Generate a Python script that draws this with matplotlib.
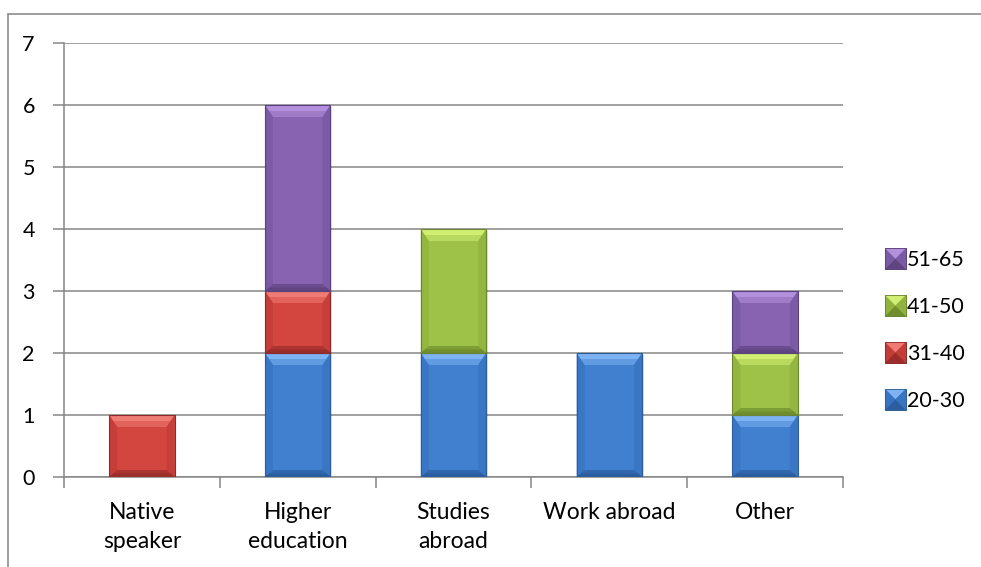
import matplotlib
matplotlib.use("Agg")
import matplotlib.pyplot as plt
from matplotlib.patches import Polygon, Rectangle
from matplotlib.legend_handler import HandlerBase

plt.rcParams['font.family'] = ['Lato', 'DejaVu Sans']

categories = ["Native\nspeaker", "Higher\neducation", "Studies\nabroad", "Work abroad", "Other"]
age_groups = ["20-30", "31-40", "41-50", "51-65"]
counts_20_30 = [0, 2, 2, 2, 1]
counts_31_40 = [1, 1, 0, 0, 0]
counts_41_50 = [0, 0, 2, 0, 1]
counts_51_65 = [0, 3, 0, 0, 1]
series = [counts_20_30, counts_31_40, counts_41_50, counts_51_65]
y_ticks = [0, 1, 2, 3, 4, 5, 6, 7]

# face, light top bevel, side bevel, dark bottom bevel, outline
palettes = [
    ("#4080CF", "#7DB3F2", "#3874C2", "#2B5E9F", "#2E5C98"),
    ("#D2463F", "#EE7C74", "#C23D38", "#9B2D2A", "#8E2B28"),
    ("#9EC247", "#D0EE72", "#90B33E", "#708E2E", "#6B862E"),
    ("#8763B1", "#B390DC", "#7A5AA4", "#5F4581", "#5A4280"),
]

W, H, DPI = 981, 567, 100
fig = plt.figure(figsize=(W / DPI, H / DPI), dpi=DPI)
ax_l, ax_r, ax_top_px, ax_bot_px = 64, 843, 43, 477
ax = fig.add_axes([ax_l / W, 1 - ax_bot_px / H, (ax_r - ax_l) / W, (ax_bot_px - ax_top_px) / H])

# outer chart border
fig.patches.append(Rectangle((8 / W, -0.01), 1.0, 1 - 14 / H + 0.01, transform=fig.transFigure,
                             fill=False, edgecolor="#8C8C8C", linewidth=1.2))

ax.set_xlim(-0.5, len(categories) - 0.5)
ax.set_ylim(0, 7)

px_per_x = (ax_r - ax_l) / len(categories)
px_per_y = (ax_bot_px - ax_top_px) / 7.0
bx = 8 / px_per_x
by_top = 12 / px_per_y
by_bot = 7 / px_per_y
bar_w = 0.42

def bevel_box(x0, x1, y0, y1, pal):
    face, light, side, dark, edge = pal
    arts = []
    # soft drop shadow
    arts.append(Rectangle((x0 + 1.5 / px_per_x, y0 - 2 / px_per_y), x1 - x0, y1 - y0,
                          facecolor="#000000", alpha=0.12, edgecolor="none", zorder=2))
    arts.append(Rectangle((x0, y0), x1 - x0, y1 - y0, facecolor=face, edgecolor="none", zorder=3))
    # top bevel: two bands for a soft highlight
    arts.append(Polygon([(x0, y1), (x1, y1), (x1 - bx, y1 - by_top), (x0 + bx, y1 - by_top)],
                        closed=True, facecolor=light, edgecolor="none", alpha=0.55, zorder=4))
    arts.append(Polygon([(x0, y1), (x1, y1), (x1 - bx * 0.5, y1 - by_top * 0.5),
                         (x0 + bx * 0.5, y1 - by_top * 0.5)],
                        closed=True, facecolor=light, edgecolor="none", zorder=4))
    arts.append(Polygon([(x0, y0), (x0, y1), (x0 + bx, y1 - by_top), (x0 + bx, y0 + by_bot)],
                        closed=True, facecolor=side, edgecolor="none", alpha=0.8, zorder=4))
    arts.append(Polygon([(x1, y0), (x1, y1), (x1 - bx, y1 - by_top), (x1 - bx, y0 + by_bot)],
                        closed=True, facecolor=side, edgecolor="none", alpha=0.8, zorder=4))
    arts.append(Polygon([(x0, y0), (x1, y0), (x1 - bx, y0 + by_bot), (x0 + bx, y0 + by_bot)],
                        closed=True, facecolor=dark, edgecolor="none", alpha=0.7, zorder=4))
    arts.append(Polygon([(x0, y0), (x1, y0), (x1 - bx * 0.5, y0 + by_bot * 0.5),
                         (x0 + bx * 0.5, y0 + by_bot * 0.5)],
                        closed=True, facecolor=dark, edgecolor="none", zorder=4))
    arts.append(Rectangle((x0, y0), x1 - x0, y1 - y0, fill=False, edgecolor=edge,
                          linewidth=0.8, zorder=5))
    return arts

x_pos = list(range(len(categories)))
bottoms = [0] * len(categories)
for vals, pal, name in zip(series, palettes, age_groups):
    bars = ax.bar(x_pos, vals, bar_w, bottom=bottoms, color=pal[0], label=name, zorder=3)
    for rect, v in zip(bars, vals):
        if v > 0:
            x0 = rect.get_x()
            x1 = x0 + rect.get_width()
            y0 = rect.get_y()
            y1 = y0 + rect.get_height()
            for a in bevel_box(x0, x1, y0, y1, pal):
                ax.add_patch(a)
        rect.set_visible(False)
    bottoms = [b + v for b, v in zip(bottoms, vals)]

# grid and axes styling
grid_c = "#868686"
ax.set_yticks(y_ticks)
ax.yaxis.grid(True, color=grid_c, linewidth=1.1, zorder=0)
ax.set_axisbelow(True)
for s in ("top", "right"):
    ax.spines[s].set_visible(False)
for s in ("left", "bottom"):
    ax.spines[s].set_color(grid_c)
    ax.spines[s].set_linewidth(1.1)
ax.tick_params(axis="y", length=8, width=1.1, color=grid_c, pad=13, labelsize=15.5)
ax.set_xticks([i - 0.5 for i in range(len(categories) + 1)])
ax.set_xticklabels([])
ax.tick_params(axis="x", which="major", length=8, width=1.1, color=grid_c)
ax.set_xticks(x_pos, minor=True)
ax.set_xticklabels(categories, minor=True, fontsize=16.5, linespacing=1.5)
ax.tick_params(axis="x", which="minor", length=0, pad=18)

class BevelSquare(HandlerBase):
    def __init__(self, pal):
        super().__init__()
        self.pal = pal

    def create_artists(self, legend, orig_handle, xdescent, ydescent, width, height, fontsize, trans):
        face, light, side, dark, edge = self.pal
        s = 15
        x0 = -xdescent + (width - s) / 2
        y0 = -ydescent + (height - s) / 2
        cx, cy = x0 + s / 2, y0 + s / 2
        x1, y1 = x0 + s, y0 + s
        arts = [
            Rectangle((x0, y0), s, s, facecolor=face, edgecolor=edge, lw=0.6, transform=trans),
            Polygon([(x0, y1), (x1, y1), (cx, cy)], facecolor=light, edgecolor="none", transform=trans),
            Polygon([(x0, y0), (x0, y1), (cx, cy)], facecolor=side, edgecolor="none", transform=trans),
            Polygon([(x1, y0), (x1, y1), (cx, cy)], facecolor=side, edgecolor="none", transform=trans),
            Polygon([(x0, y0), (x1, y0), (cx, cy)], facecolor=dark, edgecolor="none", transform=trans),
            Rectangle((x0, y0), s, s, fill=False, edgecolor=edge, lw=0.6, transform=trans),
        ]
        return arts

handles = [Rectangle((0, 0), 1, 1, facecolor=p[0]) for p in palettes]
handler_map = {h: BevelSquare(p) for h, p in zip(handles, palettes)}
leg = fig.legend(handles[::-1], age_groups[::-1], handler_map=handler_map,
                 loc="center left", bbox_to_anchor=(876 / W, 1 - 330 / H),
                 frameon=False, fontsize=15.5, handlelength=1.0, handleheight=1.0,
                 handletextpad=0.05, labelspacing=1.2, borderaxespad=0)

fig.savefig("out.png", dpi=DPI, facecolor="white")
